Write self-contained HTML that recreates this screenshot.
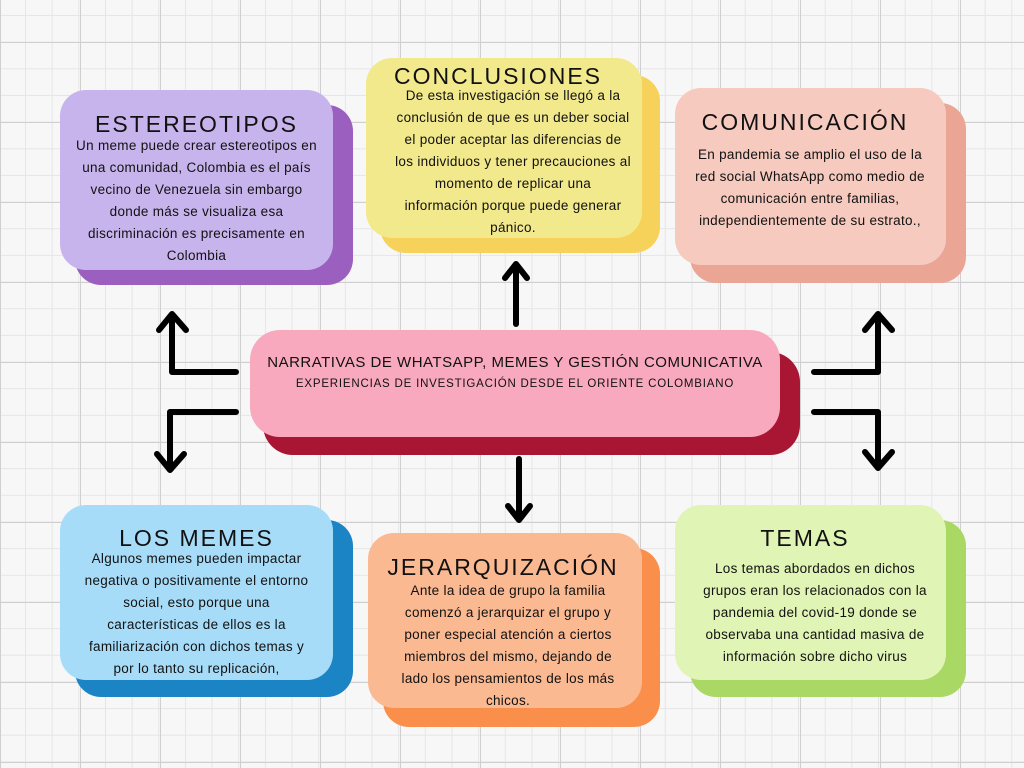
<!DOCTYPE html>
<html><head><meta charset="utf-8"><style>
*{margin:0;padding:0;box-sizing:border-box}
body{width:1024px;height:768px;overflow:hidden;position:relative;font-family:"Liberation Sans",sans-serif;color:#111;
background-color:#f7f7f7;
background-image:linear-gradient(#cfcfcf 1px,transparent 1px),linear-gradient(90deg,#cfcfcf 1px,transparent 1px),linear-gradient(#e6e6e6 1px,transparent 1px),linear-gradient(90deg,#e6e6e6 1px,transparent 1px);
background-size:80px 80px,80px 80px,26.67px 26.67px,26.67px 26.67px;background-position:0 42px,0 0,0 15px,25px 0}
.b{position:absolute;border-radius:26px}
.t{position:absolute;text-align:center;white-space:nowrap}
.h{font-size:23px;letter-spacing:2px;line-height:28px}
.p{font-size:13.5px;line-height:22px;letter-spacing:.3px}
</style></head><body>
<div class="b" style="left:75px;top:105px;width:278px;height:180px;background:#9b5fc0"></div>
<div class="b" style="left:380px;top:75px;width:280px;height:178px;background:#f7d25a"></div>
<div class="b" style="left:690px;top:103px;width:276px;height:180px;background:#eba595"></div>
<div class="b" style="left:263px;top:352px;width:537px;height:103px;background:#a81633;border-radius:30px"></div>
<div class="b" style="left:75px;top:520px;width:278px;height:177px;background:#1b84c5"></div>
<div class="b" style="left:383px;top:548px;width:277px;height:179px;background:#f98f4a"></div>
<div class="b" style="left:690px;top:520px;width:276px;height:177px;background:#a9d865"></div>
<div class="b" style="left:60px;top:90px;width:273px;height:180px;background:#c8b4ec"></div>
<div class="b" style="left:366px;top:58px;width:276px;height:180px;background:#f2e98c"></div>
<div class="b" style="left:675px;top:88px;width:271px;height:177px;background:#f6cabf"></div>
<div class="b" style="left:250px;top:330px;width:530px;height:107px;background:#f9a9be;border-radius:30px"></div>
<div class="b" style="left:60px;top:505px;width:273px;height:175px;background:#a7dcf8"></div>
<div class="b" style="left:368px;top:533px;width:274px;height:175px;background:#fbb992"></div>
<div class="b" style="left:675px;top:505px;width:271px;height:175px;background:#e0f4b5"></div>

<div class="t h" style="left:60px;top:110px;width:273px">ESTEREOTIPOS</div>
<div class="t p" style="left:60px;top:135px;width:273px">Un meme puede crear estereotipos en<br>una comunidad, Colombia es el país<br>vecino de Venezuela sin embargo<br>donde más se visualiza esa<br>discriminación es precisamente en<br>Colombia</div>
<div class="t h" style="left:366px;top:62px;width:264px">CONCLUSIONES</div>
<div class="t p" style="left:384px;top:85px;width:258px">De esta investigación se llegó a la<br>conclusión de que es un deber social<br>el poder aceptar las diferencias de<br>los individuos y tener precauciones al<br>momento de replicar una<br>información porque puede generar<br>pánico.</div>
<div class="t h" style="left:675px;top:108px;width:260px">COMUNICACIÓN</div>
<div class="t p" style="left:680px;top:144px;width:260px">En pandemia se amplio el uso de la<br>red social WhatsApp como medio de<br>comunicación entre familias,<br>independientemente de su estrato.,</div>
<div class="t" style="left:250px;top:354px;width:530px;font-size:15px;letter-spacing:.5px">NARRATIVAS DE WHATSAPP, MEMES Y GESTIÓN COMUNICATIVA</div>
<div class="t" style="left:250px;top:378px;width:530px;font-size:11.5px;letter-spacing:.8px">EXPERIENCIAS DE INVESTIGACIÓN DESDE EL ORIENTE COLOMBIANO</div>
<div class="t h" style="left:60px;top:524px;width:273px">LOS MEMES</div>
<div class="t p" style="left:60px;top:548px;width:273px">Algunos memes pueden impactar<br>negativa o positivamente el entorno<br>social, esto porque una<br>características de ellos es la<br>familiarización con dichos temas y<br>por lo tanto su replicación,</div>
<div class="t h" style="left:368px;top:553px;width:270px">JERARQUIZACIÓN</div>
<div class="t p" style="left:378px;top:580px;width:260px">Ante la idea de grupo la familia<br>comenzó a jerarquizar el grupo y<br>poner especial atención a ciertos<br>miembros del mismo, dejando de<br>lado los pensamientos de los más<br>chicos.</div>
<div class="t h" style="left:675px;top:524px;width:260px">TEMAS</div>
<div class="t p" style="left:685px;top:558px;width:260px">Los temas abordados en dichos<br>grupos eran los relacionados con la<br>pandemia del covid-19 donde se<br>observaba una cantidad masiva de<br>información sobre dicho virus</div>
<svg width="1024" height="768" style="position:absolute;left:0;top:0" fill="none" stroke="#000" stroke-width="6" stroke-linecap="round" stroke-linejoin="round">
<path d="M172 316 V372 H236"/><path d="M159 330 L172 314 L186 330"/>
<path d="M236 412 H170 V468"/><path d="M157 454 L170 470 L184 454"/>
<path d="M814 372 H878 V316"/><path d="M865 330 L878 314 L892 330"/>
<path d="M814 412 H878 V466"/><path d="M865 452 L878 468 L892 452"/>
<path d="M516 324 V266"/><path d="M505 278 L516 264 L527 278"/>
<path d="M519 459 V518"/><path d="M508 506 L519 520 L530 506"/>
</svg>
</body></html>
